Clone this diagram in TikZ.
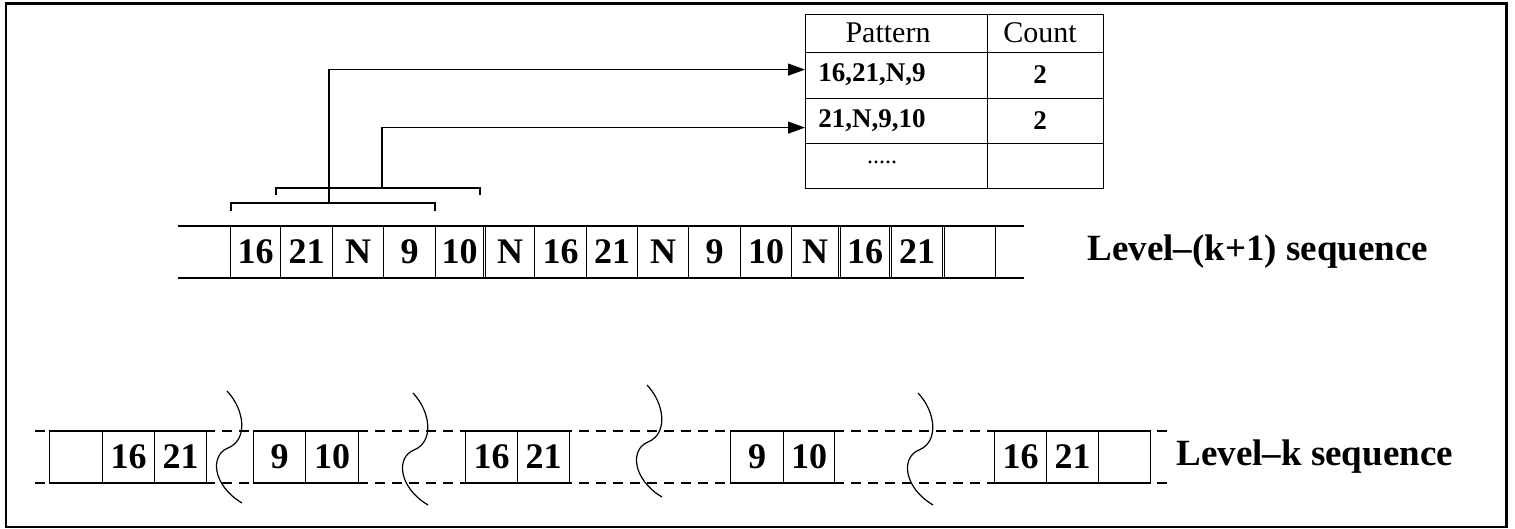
\documentclass[tikz,border=0pt]{standalone}
\usepackage{fontspec}
\setmainfont{Liberation Serif}
\usetikzlibrary{arrows.meta}
\begin{document}
\begin{tikzpicture}[x=0.5pt,y=-0.5pt,
  cell/.style={draw, line width=0.7pt, minimum height=26pt, inner sep=0pt,
    anchor=west, minimum width=#1*0.5pt, font=\fontsize{18}{18}\selectfont\bfseries},
  tcell/.style={draw, line width=0.6pt, inner sep=0pt, anchor=north west},
  head/.style={font=\fontsize{15}{15}\selectfont, inner sep=0pt},
  entry/.style={font=\fontsize{13.5}{13.5}\selectfont\bfseries, inner sep=0pt},
  seqlabel/.style={font=\fontsize{18.5}{18.5}\selectfont\bfseries, anchor=west, inner sep=0pt},
  tape/.style={line width=0.7pt},
  dtape/.style={line width=0.6pt, dash pattern=on 5pt off 3.5pt},
  link/.style={line width=0.6pt},
  arr/.style={line width=0.6pt, -{Triangle[length=8.5pt,width=6pt]}},
  breakmark/.style={line width=0.6pt}]
\useasboundingbox (0,0) rectangle (1515,529);
% outer frame
\draw[line width=1.3pt] (6,3.5) rectangle (1506.5,527);

% ---- pattern table ----
\node[tcell, minimum width=91pt, minimum height=19pt] (ph) at (805,14) {};
\node[tcell, minimum width=58pt, minimum height=19pt] (ch) at (987,14) {};
\node[tcell, minimum width=91pt, minimum height=23pt] (p1) at (805,52) {};
\node[tcell, minimum width=58pt, minimum height=23pt] (c1) at (987,52) {};
\node[tcell, minimum width=91pt, minimum height=22.5pt] (p2) at (805,98) {};
\node[tcell, minimum width=58pt, minimum height=22.5pt] (c2) at (987,98) {};
\node[tcell, minimum width=91pt, minimum height=22.5pt] (p3) at (805,143) {};
\node[tcell, minimum width=58pt, minimum height=22.5pt] (c3) at (987,143) {};
\node[head] (pht) at (888,33) {Pattern};
\node[head] (cht) at (1040,33) {Count};
\node[entry] (p1t) at (872,75) {16,21,N,9};
\node[entry] (c1t) at (1040,75) {2};
\node[entry] (p2t) at (872,121) {21,N,9,10};
\node[entry] (c2t) at (1040,121) {2};
\node[entry, font=\fontsize{12}{12}\selectfont] (p3t) at (882,162) {.....};

% ---- level-(k+1) sequence ----
\draw[tape] (178,226) -- (1024,226);
\draw[tape] (178,278) -- (1024,278);
\node[cell=50] (u1) at (230,252) {16};
\node[cell=52] (u2) at (280,252) {21};
\node[cell=51] (u3) at (332,252) {N};
\node[cell=52] (u4) at (383,252) {9};
\node[cell=48] (u5) at (435,252) {10};
\node[cell=49] (u6) at (485,252) {N};
\node[cell=52] (u7) at (534,252) {16};
\node[cell=51] (u8) at (586,252) {21};
\node[cell=51] (u9) at (637,252) {N};
\node[cell=52] (u10) at (688,252) {9};
\node[cell=51] (u11) at (740,252) {10};
\node[cell=47] (u12) at (791,252) {N};
\node[cell=49] (u13) at (840,252) {16};
\node[cell=51] (u14) at (891,252) {21};
\node[cell=51] (u15) at (944,252) {};
\node[seqlabel] (lk1) at (1087,252) {Level\textendash(k+1) sequence};

% windows of four symbols
\draw[link] (231,211) -- (231,203) -- (435,203) -- (435,211);
\draw[link] (276,195) -- (276,188) -- (480,188) -- (480,195);
\coordinate (w1) at (329,203);
\coordinate (w2) at (382,188);
\draw[arr] (w1) |- ([yshift=3pt]p1.west);
\draw[arr] (w2) |- ([yshift=-3.25pt]p2.west);

% ---- level-k sequence ----
\draw[dtape] (35,431) -- (1171,431);
\draw[dtape] (35,483) -- (1171,483);
\node[cell=53] (v1) at (49,457) {};
\node[cell=52] (v2) at (102,457) {16};
\node[cell=52] (v3) at (154,457) {21};
\node[cell=52] (v4) at (253,457) {9};
\node[cell=53] (v5) at (305,457) {10};
\node[cell=52] (v6) at (465,457) {16};
\node[cell=52] (v7) at (517,457) {21};
\node[cell=53] (v8) at (730,457) {9};
\node[cell=51] (v9) at (783,457) {10};
\node[cell=52] (v10) at (994,457) {16};
\node[cell=52] (v11) at (1046,457) {21};
\node[cell=52] (v12) at (1098,457) {};
\node[seqlabel] (lk) at (1176,457) {Level\textendash k sequence};

% break marks between fragments
\foreach \bx/\by in {227/391, 413/393, 647/385, 918/393}
  \draw[breakmark, shift={(\bx,\by)}] (0,0) .. controls (18,19) and (21,49) .. (1,57)
    .. controls (-17,64) and (-15,94) .. (15,112);
\end{tikzpicture}
\end{document}
